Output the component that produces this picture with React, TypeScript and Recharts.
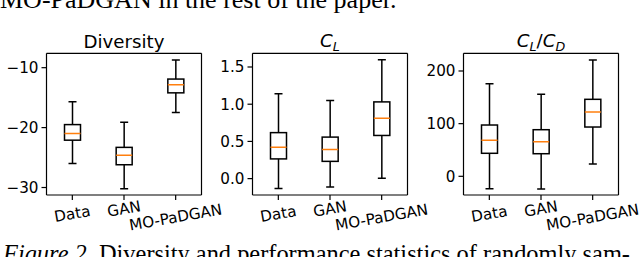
import { ComposedChart, Bar, XAxis, YAxis } from 'recharts'

const categories = ['Data', 'GAN', 'MO-PaDGAN']

// each row: [lower whisker, Q1, median, Q3, upper whisker]
const diversity = [
  [-26.0, -22.1, -21.0, -19.5, -15.7],
  [-30.2, -26.2, -24.6, -23.3, -19.1],
  [-17.5, -14.2, -12.85, -11.9, -8.7],
]
const lift = [
  [-0.134, 0.265, 0.422, 0.618, 1.14],
  [-0.111, 0.232, 0.392, 0.558, 1.05],
  [0.004, 0.58, 0.812, 1.031, 1.597],
]
const liftDrag = [
  [-23.5, 43.7, 68.4, 97.4, 175.9],
  [-24.1, 42.9, 65.7, 88.5, 155.7],
  [23.4, 93.6, 122.1, 146.2, 220.9],
]

const diversityTicks = [-30, -20, -10]
const liftTicks = [0, 0.5, 1.0, 1.5]
const liftDragTicks = [0, 100, 200]

const topLine = 'MO-PaDGAN in the rest of the paper.'
const captionLabel = 'Figure 2.'
const captionText = ' Diversity and performance statistics of randomly sam-'

const SANS = 'DejaVu Sans'
const SERIF = 'Liberation Serif'
const TICK_FONT = 15.2
const PLOT_W = 155
const PLOT_TOP = 53.3
const PLOT_BOTTOM = 195
const Y_AXIS_W = 50

// matplotlib places the rotated labels a little differently
const LABEL_DROP: Record<string, number> = { Data: 12, GAN: 7, 'MO-PaDGAN': 15.5 }

const toRows = (stats: number[][]) =>
  categories.map((name, i) => ({
    name,
    range: [stats[i][0], stats[i][4]],
    q1: stats[i][1],
    median: stats[i][2],
    q3: stats[i][3],
  }))

const minus = (v: number) => (v < 0 ? '\u2212' + Math.abs(v) : String(v))

function BoxShape(props: any) {
  const { x, y, width, height, payload } = props
  const [lo, hi] = payload.range
  const top = Math.min(y, y + height)
  const h = Math.abs(height)
  const toPx = (v: number) => top + (h * (hi - v)) / (hi - lo)
  const cx = x + width / 2
  const cap = width / 4
  const yQ3 = toPx(payload.q3)
  const yQ1 = toPx(payload.q1)
  const yMed = toPx(payload.median)
  const s = { stroke: '#000', strokeWidth: 1.5 }
  return (
    <g>
      <line x1={cx} x2={cx} y1={top} y2={yQ3} {...s} />
      <line x1={cx} x2={cx} y1={yQ1} y2={top + h} {...s} />
      <line x1={cx - cap} x2={cx + cap} y1={top} y2={top} {...s} />
      <line x1={cx - cap} x2={cx + cap} y1={top + h} y2={top + h} {...s} />
      <rect x={x} y={yQ3} width={width} height={yQ1 - yQ3} fill="none" {...s} />
      <line x1={x} x2={x + width} y1={yMed} y2={yMed} stroke="#ff7f0e" strokeWidth={1.5} />
    </g>
  )
}

function XTick({ x, y, payload }: any) {
  const cy = y + (LABEL_DROP[payload.value] ?? 10)
  return (
    <text
      x={x}
      y={cy}
      textAnchor="middle"
      dominantBaseline="central"
      transform={`rotate(-10 ${x} ${cy})`}
      fontFamily={SANS}
      fontSize={TICK_FONT}
      fill="#000"
    >
      {payload.value}
    </text>
  )
}

interface PanelProps {
  stats: number[][]
  domain: [number, number]
  ticks: number[]
  format: (v: number) => string
  plotLeft: number
}

function Panel({ stats, domain, ticks, format, plotLeft }: PanelProps) {
  const axisStroke = { stroke: '#000', strokeWidth: 1.2 }
  return (
    <div style={{ position: 'absolute', left: 0, top: 0 }}>
      <ComposedChart
        width={640}
        height={257}
        data={toRows(stats)}
        margin={{ top: PLOT_TOP - 1, bottom: 0, left: plotLeft - Y_AXIS_W, right: 640 - plotLeft - PLOT_W - 1 }}
      >
        <XAxis
          dataKey="name"
          type="category"
          height={257 - PLOT_BOTTOM}
          axisLine={axisStroke}
          tickLine={axisStroke}
          tickSize={5}
          tick={<XTick />}
          interval={0}
        />
        <XAxis
          xAxisId="top"
          dataKey="name"
          type="category"
          orientation="top"
          height={1}
          tick={false}
          tickLine={false}
          axisLine={axisStroke}
        />
        <YAxis
          type="number"
          domain={domain}
          ticks={ticks}
          interval={0}
          allowDataOverflow
          width={Y_AXIS_W}
          axisLine={axisStroke}
          tickLine={axisStroke}
          tickSize={5}
          tickMargin={3}
          tickFormatter={format}
          tick={{ fill: '#000', fontFamily: SANS, fontSize: TICK_FONT }}
        />
        <YAxis
          yAxisId="right"
          type="number"
          orientation="right"
          width={1}
          domain={[0, 1]}
          tick={false}
          tickLine={false}
          axisLine={axisStroke}
        />
        <Bar dataKey="range" barSize={16} shape={<BoxShape />} isAnimationActive={false} />
      </ComposedChart>
    </div>
  )
}

export default function App() {
  return (
    <div style={{ position: 'absolute', left: 0, top: 0, width: 640, height: 257, background: '#fff', overflow: 'hidden' }}>
      <Panel stats={diversity} domain={[-31.25, -7.6]} ticks={diversityTicks} format={minus} plotLeft={46.5} />
      <Panel stats={lift} domain={[-0.22, 1.684]} ticks={liftTicks} format={(v) => v.toFixed(1)} plotLeft={252.5} />
      <Panel stats={liftDrag} domain={[-35.5, 233.6]} ticks={liftDragTicks} format={minus} plotLeft={463.5} />
      <svg width={640} height={257} style={{ position: 'absolute', left: 0, top: 0 }}>
        <text x={0} y={8} fontFamily={SERIF} fontSize={26} fill="#000">
          {topLine}
        </text>
        <text x={124} y={47.5} textAnchor="middle" fontFamily={SANS} fontSize={18.2} fill="#000">
          Diversity
        </text>
        <text x={330} y={47} textAnchor="middle" fontFamily={SANS} fontSize={18.2} fontStyle="italic" fill="#000">
          <tspan>C</tspan>
          <tspan fontSize={12.7} dy={3.5}>L</tspan>
        </text>
        <text x={541} y={47} textAnchor="middle" fontFamily={SANS} fontSize={18.2} fontStyle="italic" fill="#000">
          <tspan>C</tspan>
          <tspan fontSize={12.7} dy={3.5}>L</tspan>
          <tspan dy={-3.5} fontStyle="normal">/</tspan>
          <tspan>C</tspan>
          <tspan fontSize={12.7} dy={3.5}>D</tspan>
        </text>
        <text x={3} y={262} fontFamily={SERIF} fontSize={24.4} fill="#000">
          <tspan fontStyle="italic">{captionLabel}</tspan>
          <tspan>{captionText}</tspan>
        </text>
      </svg>
    </div>
  )
}
